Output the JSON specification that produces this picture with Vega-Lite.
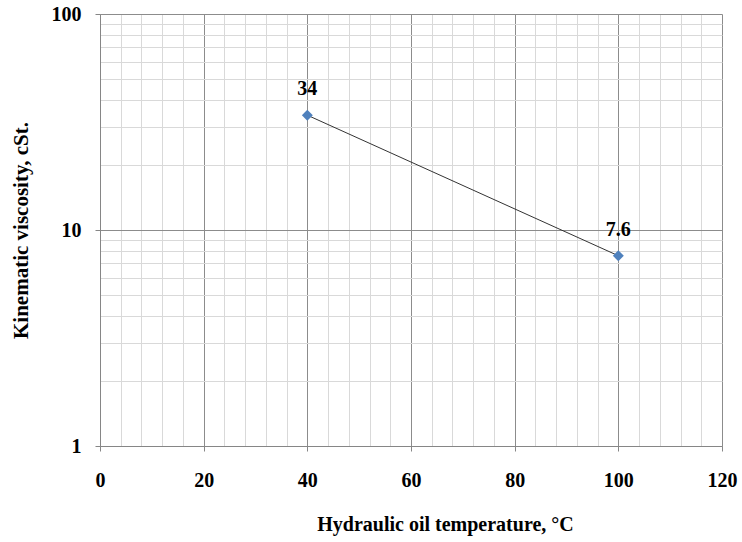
{
  "$schema": "https://vega.github.io/schema/vega-lite/v6.json",
  "width": 622,
  "height": 432,
  "autosize": "none",
  "padding": {"left": 100, "top": 14, "right": 20, "bottom": 96},
  "background": "white",
  "config": {"view": {"stroke": null}, "font": "Liberation Serif, DejaVu Serif, serif"},
  "data": {"values": [
    {"temp": 40, "visc": 34, "label": "34"},
    {"temp": 100, "visc": 7.6, "label": "7.6"}
  ]},
  "encoding": {
    "x": {
      "field": "temp", "type": "quantitative",
      "scale": {"domain": [0, 120], "nice": false},
      "axis": {
        "title": "Hydraulic oil temperature, °C",
        "titleFont": "Liberation Serif, DejaVu Serif, serif", "titleFontSize": 20, "titleFontWeight": "bold", "titleColor": "black",
        "titlePadding": 24,
        "titleX": 345,
        "titleAlign": "center",
        "values": [0,4,8,12,16,20,24,28,32,36,40,44,48,52,56,60,64,68,72,76,80,84,88,92,96,100,104,108,112,116,120],
        "labelExpr": "datum.value % 20 === 0 ? datum.label : ''",
        "labelFont": "Liberation Serif, DejaVu Serif, serif", "labelFontSize": 20, "labelFontWeight": "bold", "labelColor": "black",
        "labelPadding": 19,
        "labelFlush": false,
        "labelOverlap": false,
        "domainColor": "#868686",
        "tickSize": 5,
        "tickColor": {"condition": {"test": "datum.value % 20 === 0", "value": "#868686"}, "value": "rgba(0,0,0,0)"},
        "grid": true,
        "gridColor": {"condition": {"test": "datum.value % 20 === 0", "value": "#8c8c8c"}, "value": "#d9d9d9"},
        "gridOpacity": 1,
        "gridWidth": 1
      }
    },
    "y": {
      "field": "visc", "type": "quantitative",
      "scale": {"type": "log", "domain": [1, 100], "nice": false},
      "axis": {
        "title": "Kinematic viscosity, cSt.",
        "titleFont": "Liberation Serif, DejaVu Serif, serif", "titleFontSize": 21, "titleFontWeight": "bold", "titleColor": "black",
        "titlePadding": 20,
        "values": [1,2,3,4,5,6,7,8,9,10,20,30,40,50,60,70,80,90,100],
        "labelExpr": "(datum.value === 1 || datum.value === 10 || datum.value === 100) ? datum.label : ''",
        "labelFont": "Liberation Serif, DejaVu Serif, serif", "labelFontSize": 20, "labelFontWeight": "bold", "labelColor": "black",
        "labelPadding": 14,
        "labelFlush": false,
        "labelOverlap": false,
        "domainColor": "#868686",
        "tickSize": 5,
        "tickColor": {"condition": {"test": "datum.value === 1 || datum.value === 10 || datum.value === 100", "value": "#868686"}, "value": "rgba(0,0,0,0)"},
        "grid": true,
        "gridColor": {"condition": {"test": "datum.value === 1 || datum.value === 10 || datum.value === 100", "value": "#8c8c8c"}, "value": "#d9d9d9"},
        "gridOpacity": 1,
        "gridWidth": 1
      }
    }
  },
  "layer": [
    {"mark": {"type": "line", "color": "#333333", "strokeWidth": 1}},
    {"mark": {"type": "point", "shape": "diamond", "filled": true, "color": "#4F81BD", "size": 120, "opacity": 1}},
    {"mark": {"type": "text", "dy": -26, "font": "Liberation Serif, DejaVu Serif, serif", "fontSize": 20, "fontWeight": "bold", "color": "black"},
     "encoding": {"text": {"field": "label"}}}
  ]
}
